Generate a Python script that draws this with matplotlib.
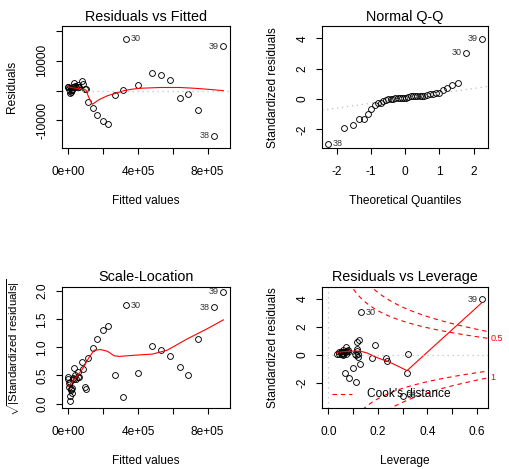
import numpy as np
import matplotlib
matplotlib.use("Agg")
import matplotlib.pyplot as plt
from statistics import NormalDist

plt.rcParams['font.family'] = ['Liberation Sans', 'DejaVu Sans']
plt.rcParams['mathtext.fontset'] = 'custom'
plt.rcParams['mathtext.rm'] = 'Liberation Sans'
plt.rcParams['mathtext.default'] = 'regular'

obs_ids = list(range(1, 41))
fitted = [-3400, 0, 3000, 5700, 8000, 9700, 11400, 13000, 15400, 19400,
          21100, 26000, 34300, 40000, 44000, 53700, 57100, 62900, 95400, 101000,
          744900, 314300, 228600, 196600, 164000, 139400, 114300, 643900, 266900, 329600,
          685800, 478000, 529600, 582900, 76600, 30800, 82300, 834400, 890000, 402000]
residuals = [1330, 1100, 500, 800, 100, 10, -890, -330, 400, 200,
             460, 1250, 1150, 1500, 1100, 1900, 1300, 1330, 500, 400,
             -6660, 60, -11100, -10100, -8100, -5880, -3660, -2330, -1440, 17460,
             -1110, 6000, 5220, 3560, 3330, 2460, 2200, -15190, 14870, 1780]
std_resid = [0.22, 0.185, 0.085, 0.135, 0.017, 0.002, -0.15, -0.055, 0.067, 0.034,
             0.077, 0.21, 0.19, 0.25, 0.185, 0.32, 0.22, 0.225, 0.084, 0.068,
             -1.31, 0.015, -1.93, -1.70, -1.33, -0.98, -0.67, -0.43, -0.26, 3.05,
             -0.25, 1.06, 0.91, 0.72, 0.56, 0.40, 0.37, -2.95, 3.98, 0.30]
leverage = [0.045, 0.05, 0.035, 0.055, 0.05, 0.06, 0.12, 0.11, 0.045, 0.06,
            0.07, 0.05, 0.065, 0.075, 0.08, 0.06, 0.07, 0.065, 0.107, 0.12,
            0.318, 0.322, 0.113, 0.085, 0.067, 0.098, 0.126, 0.238, 0.177, 0.134,
            0.234, 0.123, 0.114, 0.19, 0.07, 0.114, 0.08, 0.30, 0.621, 0.117]
show_ids = [30, 38, 39]

# red smoother curves as drawn
rf_smooth_x = [-3400, 30000, 60000, 101000, 115000, 137000, 177000, 225000, 272000,
               320000, 368000, 415000, 530000, 640000, 720000, 800000, 890000]
rf_smooth_y = [1300, 900, 600, 200, -2000, -4600, -3000, -1700, -900,
               0, 500, 800, 1050, 1050, 800, 450, 0]
sl_smooth_x = [-3400, 40000, 81900, 120000, 148600, 186700, 224800, 262900, 291400,
               339400, 377200, 482000, 567700, 682000, 796300, 890000]
sl_smooth_y = [0.30, 0.45, 0.62, 0.83, 0.95, 0.96, 0.93, 0.85, 0.84,
               0.85, 0.86, 0.88, 0.95, 1.15, 1.33, 1.49]
lev_smooth_x = [0.035, 0.077, 0.11, 0.13, 0.157, 0.19, 0.204, 0.244, 0.318, 0.621]
lev_smooth_y = [0.17, 0.24, 0.27, 0.25, 0.12, -0.15, -0.26, -0.5, -1.14, 3.74]

n_coef = 5
cook_levels = [0.5, 1]

fitted = np.array(fitted, float)
residuals = np.array(residuals, float)
std_resid = np.array(std_resid, float)
leverage = np.array(leverage, float)
ids = np.array(obs_ids)

BASE = 8.6
TITLE = 10.4
IDSIZE = 6.5
MS = 4.2


def ext(lo, hi, f=0.04):
    d = (hi - lo) * f
    return lo - d, hi + d


def style(ax, title, xlabel, ylabel, ylab_x, ylab_size=BASE):
    for s in ax.spines.values():
        s.set_linewidth(0.8)
    ax.tick_params(direction='out', length=4.3, width=0.8, labelsize=BASE)
    ax.tick_params(axis='x', pad=8.4)
    ax.tick_params(axis='y', pad=5.4)
    ax.set_title(title, fontsize=TITLE, pad=4)
    ax.set_xlabel(xlabel, fontsize=BASE)
    ax.set_ylabel(ylabel, fontsize=ylab_size)
    ax.xaxis.set_label_coords(0.5, -0.385)
    ax.yaxis.set_label_coords(ylab_x, 0.5)


def label_points(ax, x, y, which):
    mid = (x[which].min() + x[which].max()) / 2
    for xi, yi, name in zip(x[which], y[which], ids[which]):
        right = xi < mid
        ax.annotate(str(name), (xi, yi), xytext=(3.2 if right else -3.2, 0),
                    textcoords='offset points', ha='left' if right else 'right',
                    va='center', fontsize=IDSIZE, color='#333333')


def circles(ax, x, y):
    ax.plot(x, y, 'o', mfc='none', mec='black', ms=MS, mew=0.65, ls='none')


sel = np.isin(ids, show_ids)
fig = plt.figure(figsize=(5.09, 4.69), dpi=100)

# Residuals vs Fitted
ax1 = fig.add_axes([0.121, 0.684, 0.330, 0.260])
circles(ax1, fitted, residuals)
ax1.plot(rf_smooth_x, rf_smooth_y, color='red', lw=0.8)
ax1.axhline(0, color='#bebebe', lw=0.9, ls=(0, (1, 3)))
lo, hi = ext(residuals.min(), residuals.max(), 0.08)
ax1.set_ylim(*ext(lo, hi))
ax1.set_xlim(*ext(fitted.min(), fitted.max()))
ax1.set_xticks([0, 2e5, 4e5, 6e5, 8e5], ['0e+00', '', '4e+05', '', '8e+05'])
ax1.set_yticks([-10000, 0, 10000, 20000], ['-10000', '', '10000', ''], rotation=90, va='center')
label_points(ax1, fitted, residuals, sel)
style(ax1, 'Residuals vs Fitted', 'Fitted values', 'Residuals', -0.257)

# Normal Q-Q
ax2 = fig.add_axes([0.633, 0.684, 0.326, 0.260])
n = len(std_resid)
nd = NormalDist()
theo_sorted = np.array([nd.inv_cdf((i - 0.5) / n) for i in range(1, n + 1)])
theo = np.empty(n)
theo[np.argsort(std_resid)] = theo_sorted
circles(ax2, theo, std_resid)
q1, q3 = np.quantile(std_resid, [0.25, 0.75])
z = nd.inv_cdf(0.75)
ax2.axline((-z, q1), (z, q3), color='#bebebe', lw=0.9, ls=(0, (1, 3)))
ax2.set_xlim(*ext(theo.min(), theo.max()))
ymax = std_resid.max() + (std_resid.max() - std_resid.min()) * 0.075
ax2.set_ylim(*ext(std_resid.min(), ymax))
ax2.set_xticks([-2, -1, 0, 1, 2], ['-2', '-1', '0', '1', '2'])
ax2.set_yticks([-2, 0, 2, 4], ['-2', '0', '2', '4'], rotation=90, va='center')
label_points(ax2, theo, std_resid, sel)
style(ax2, 'Normal Q-Q', 'Theoretical Quantiles', 'Standardized residuals', -0.262)

# Scale-Location
ax3 = fig.add_axes([0.121, 0.130, 0.330, 0.258])
sq = np.sqrt(np.abs(std_resid))
circles(ax3, fitted, sq)
ax3.plot(sl_smooth_x, sl_smooth_y, color='red', lw=0.8)
ax3.set_xlim(*ext(fitted.min(), fitted.max()))
ax3.set_ylim(*ext(0, sq.max()))
ax3.set_xticks([0, 2e5, 4e5, 6e5, 8e5], ['0e+00', '', '4e+05', '', '8e+05'])
ax3.set_yticks([0, 0.5, 1.0, 1.5, 2.0], ['0.0', '0.5', '1.0', '1.5', '2.0'], rotation=90, va='center')
label_points(ax3, fitted, sq, sel)
style(ax3, 'Scale-Location', 'Fitted values',
      r'$\sqrt{|Standardized\ residuals|}$', -0.235, ylab_size=8.2)

# Residuals vs Leverage
ax4 = fig.add_axes([0.633, 0.130, 0.326, 0.258])
circles(ax4, leverage, std_resid)
ax4.plot(lev_smooth_x, lev_smooth_y, color='red', lw=0.8)
xl = ext(0, leverage.max())
lo, hi = ext(std_resid.min(), std_resid.max(), 0.08)
ax4.set_xlim(*xl)
ax4.set_ylim(*ext(lo, hi))
ax4.axhline(0, color='#bebebe', lw=0.9, ls=(0, (1, 3)))
ax4.axvline(0, color='#bebebe', lw=0.9, ls=(0, (1, 3)))
hh = np.linspace(min(leverage.min(), leverage.max() / 100), xl[1], 101)
for c in cook_levels:
    ch = np.sqrt(c * n_coef * (1 - hh) / hh)
    ax4.plot(hh, ch, color='red', lw=0.8, ls=(0, (4, 3.5)))
    ax4.plot(hh, -ch, color='red', lw=0.8, ls=(0, (4, 3.5)))
ymult = np.sqrt(n_coef * (1 - xl[1]) / xl[1])
tr = ax4.get_yaxis_transform()
ax4.text(1.015, np.sqrt(cook_levels[0]) * ymult, '0.5', transform=tr, color='red',
         fontsize=IDSIZE, ha='left', va='center', clip_on=False)
ax4.text(1.015, -np.sqrt(cook_levels[1]) * ymult, '1', transform=tr, color='red',
         fontsize=IDSIZE, ha='left', va='center', clip_on=False)
ax4.plot([0.06, 0.18], [0.116, 0.116], transform=ax4.transAxes, color='red', lw=0.8,
         ls=(0, (4, 3.5)))
ax4.text(0.27, 0.116, "Cook's distance", transform=ax4.transAxes, fontsize=BASE,
         ha='left', va='center')
ax4.set_xticks([0, 0.1, 0.2, 0.3, 0.4, 0.5, 0.6], ['0.0', '', '0.2', '', '0.4', '', '0.6'])
ax4.set_yticks([-2, 0, 2, 4], ['-2', '0', '2', '4'], rotation=90, va='center')
label_points(ax4, leverage, std_resid, sel)
style(ax4, 'Residuals vs Leverage', 'Leverage', 'Standardized residuals', -0.262)

fig.savefig('out.png', dpi=100)
